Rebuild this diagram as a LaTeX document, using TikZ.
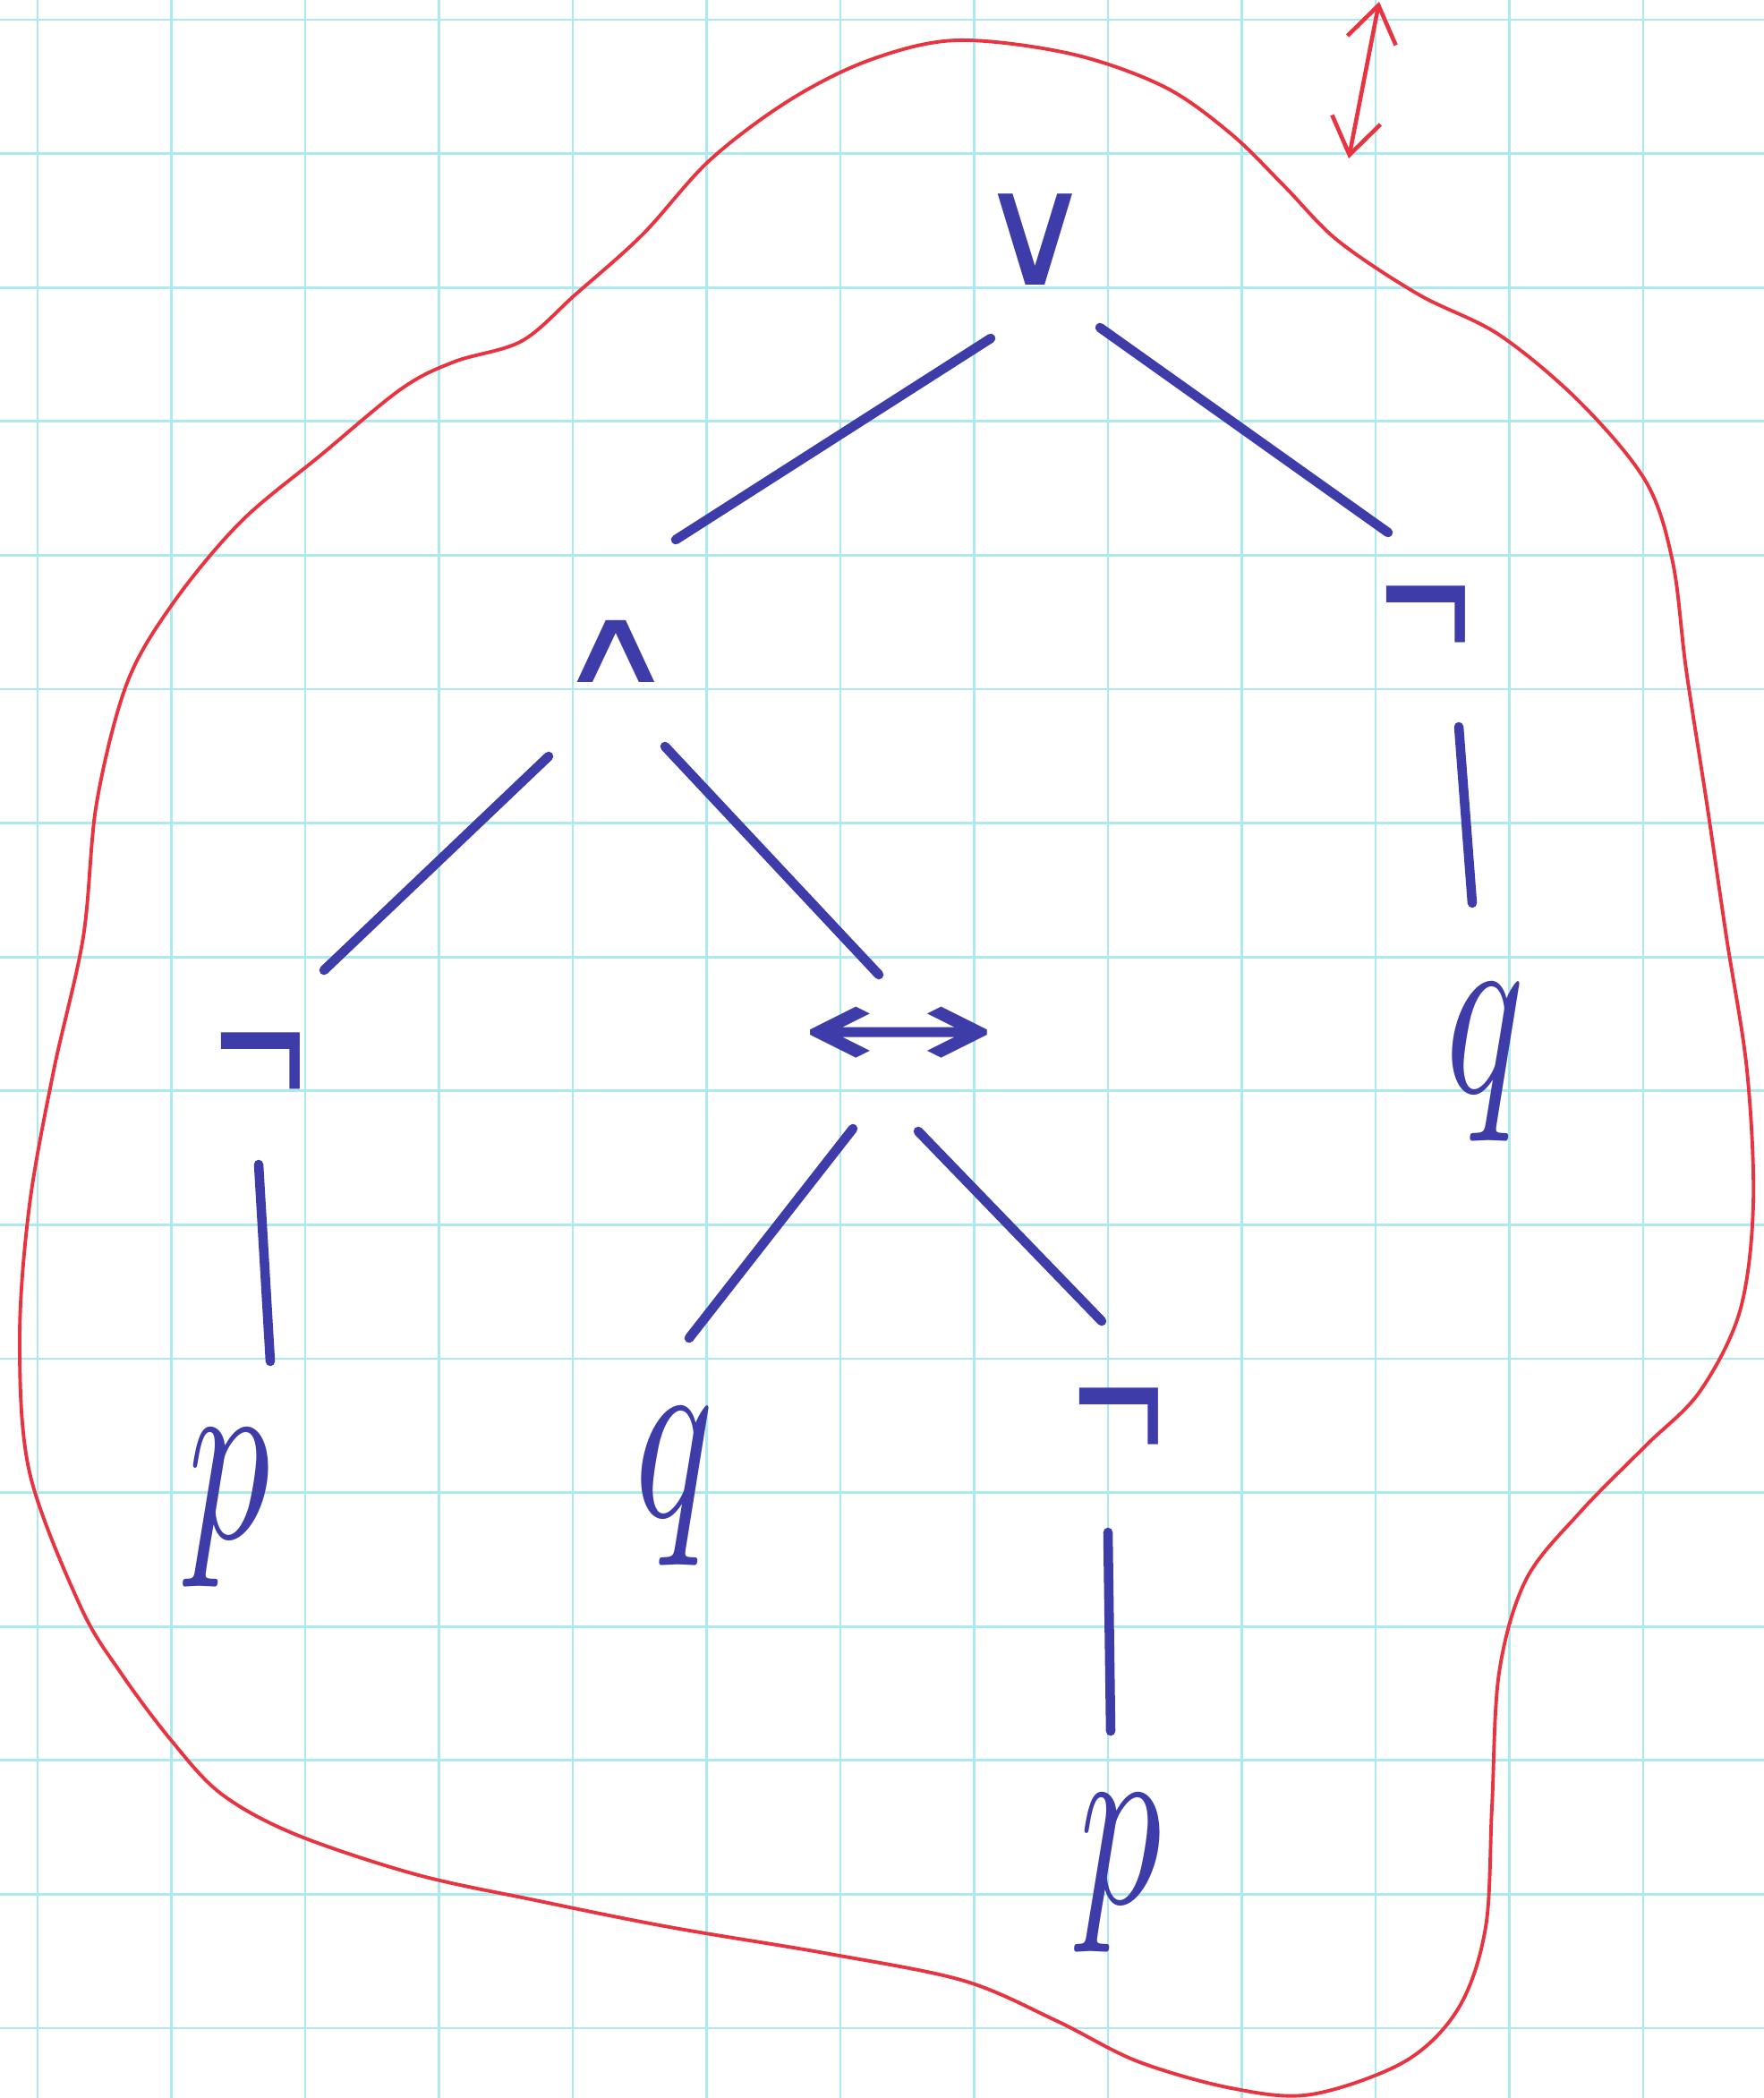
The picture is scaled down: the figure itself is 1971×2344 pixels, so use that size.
\documentclass[tikz,border=0pt]{standalone}
\usepackage{fontspec}
\newfontfamily\penfont{DejaVu Sans}
\usepackage{tikz}
\usetikzlibrary{arrows.meta}
\definecolor{inkblue}{RGB}{62,60,168}
\definecolor{penred}{RGB}{232,52,64}
\definecolor{gridcyan}{RGB}{172,234,240}

\begin{document}
\begin{tikzpicture}[x=.1mm,y=-.1mm,
  op/.style={text=inkblue,inner sep=0pt,font=\penfont\fontsize{40}{44}\selectfont},
  notsign/.style={op,yscale=1.6},
  leaf/.style={text=inkblue,inner sep=0pt,scale=8,xscale=.65},
  link/.style={draw=inkblue,line width=3pt,line cap=round},
  paper/.style={gridcyan,line width=.8pt}]
  \useasboundingbox[fill=white] (0,0) rectangle (1971,2344);
  % squared paper
  \foreach \i in {0,...,12} \draw[paper] (42+149.5*\i,0)--(42+149.5*\i,2344);
  \foreach \i in {0,...,15} \draw[paper] (0,22+149.6*\i)--(1971,22+149.6*\i);
  % red outline round the tree
  \draw[penred,line width=1.1pt] plot[smooth cycle,tension=.55] coordinates {
    (1069,45) (1196,60) (1301,97) (1376,150) (1436,209) (1495,269) (1585,329)
    (1675,374) (1765,449) (1839,538) (1869,628) (1884,748) (1907,897) (1929,1047)
    (1952,1196) (1959,1346) (1944,1465) (1899,1555) (1839,1615) (1765,1690)
    (1705,1765) (1675,1869) (1667,2019) (1660,2153) (1630,2243) (1570,2303)
    (1465,2340) (1376,2333) (1271,2303) (1181,2258) (1077,2213) (927,2183)
    (748,2153) (598,2123) (464,2094) (329,2049) (247,2004) (191,1944) (135,1869)
    (90,1795) (33,1645) (22,1495) (33,1346) (60,1196) (93,1047) (108,897)
    (142,763) (194,673) (269,583) (359,508) (449,434) (508,404) (583,381)
    (643,329) (718,262) (793,179) (882,112) (972,67)};
  \coordinate (lowtip) at (1507,177);
  \coordinate (hightip) at (1541,2);
  \draw[penred,line width=1.3pt,{Straight Barb[length=4mm,width=5.5mm]}-{Straight Barb[length=4mm,width=5.5mm]}] (lowtip)--(hightip);
  % formula tree
  \node[op,font=\penfont\fontsize{50}{54}\selectfont] (or) at (1157,268) {∨};
  \node[op,xscale=1.3,yscale=.85] (and) at (688,728) {∧};
  \node[notsign] (notr) at (1593,702) {¬};
  \node[leaf] (qr) at (1660,1187) {$q$};
  \node[notsign] (notl) at (291,1201) {¬};
  \node[op,font=\penfont\fontsize{76}{80}\selectfont,yscale=.5] (iff) at (1004,1160) {↔};
  \node[leaf] (pl) at (256,1685) {$p$};
  \node[leaf] (qm) at (754,1661) {$q$};
  \node[notsign] (notm) at (1250,1598) {¬};
  \node[leaf] (pm) at (1252,2093) {$p$};
  \draw[link] ([shift={(-50,110)}]or.center)--([shift={(67,-125)}]and.center);
  \draw[link] ([shift={(72,98)}]or.center)--([shift={(-42,-107)}]notr.center);
  \draw[link] ([shift={(37,110)}]notr.center)--([shift={(-15,-178)}]qr.center);
  \draw[link] ([shift={(-75,117)}]and.center)--([shift={(71,-117)}]notl.center);
  \draw[link] ([shift={(55,106)}]and.center)--([shift={(-22,-71)}]iff.center);
  \draw[link] ([shift={(-2,100)}]notl.center)--([shift={(46,-164)}]pl.center);
  \draw[link] ([shift={(-51,101)}]iff.center)--([shift={(16,-166)}]qm.center);
  \draw[link] ([shift={(22,104)}]iff.center)--([shift={(-19,-122)}]notm.center);
  \draw[link] ([shift={(-12,114)}]notm.center)--([shift={(-11,-159)}]pm.center);
\end{tikzpicture}
\end{document}
